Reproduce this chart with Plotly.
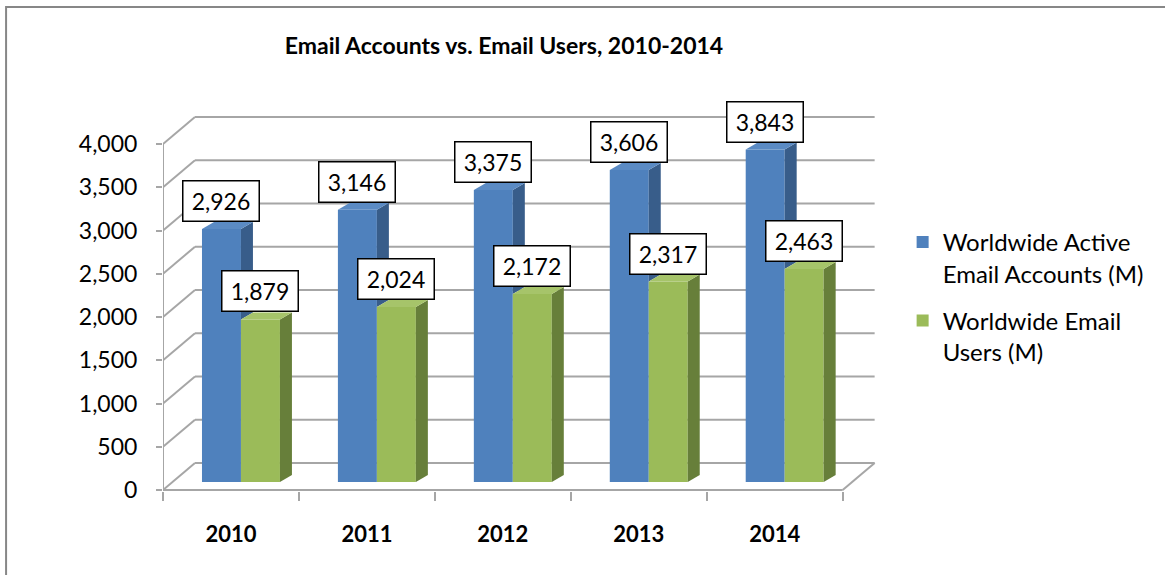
import plotly.graph_objects as go

# ---- data ----
years = ["2010", "2011", "2012", "2013", "2014"]
accounts = [2926, 3146, 3375, 3606, 3843]
users = [1879, 2024, 2172, 2317, 2463]
y_ticks = [0, 500, 1000, 1500, 2000, 2500, 3000, 3500, 4000]
series_names = ["Worldwide Active<br>Email Accounts (M)", "Worldwide Email<br>Users (M)"]

# ---- geometry / style ----
W, H = 1165, 575
PX_CAT = 136.0            # pixels per category
K = 346.0 / 4000.0        # pixels per value unit
X0_PX = 163               # pixel of x=0
Y0_PX = 490               # pixel of value 0 (front plane)
TOP_PX, BOT_PX = 105, 491
RIGHT_X = 5.26

wall_dx = 32 / PX_CAT
wall_dy = 27 / K
bar_base = 8 / K
bar_off = 39 / PX_CAT
bar_w = 39 / PX_CAT
side_dx = 12 / PX_CAT
side_dy = 7 / K

blue, blue_side, blue_top = "#4F81BD", "#385D8A", "#5B8BC4"
green, green_side, green_top = "#9BBB59", "#677F3A", "#A6C46A"
grid_col = "#A6A6A6"
FONT = "Lato"

y_lo = -(BOT_PX - Y0_PX) / K
y_hi = (Y0_PX - TOP_PX) / K

fig = go.Figure()

n = len(years)
blue_x = [i + bar_off + bar_w / 2 for i in range(n)]
green_x = [i + bar_off + bar_w * 1.5 for i in range(n)]

fig.add_trace(go.Bar(x=blue_x, y=accounts, base=bar_base, width=bar_w,
                     marker=dict(color=blue, line=dict(width=0)),
                     name=series_names[0], legendgroup="a"))
fig.add_trace(go.Bar(x=green_x, y=users, base=bar_base, width=bar_w,
                     marker=dict(color=green, line=dict(width=0)),
                     name=series_names[1], legendgroup="b"))


def poly(xs, ys, color):
    fig.add_trace(go.Scatter(x=xs + [xs[0]], y=ys + [ys[0]], mode="lines",
                             fill="toself", fillcolor=color,
                             line=dict(width=0, color=color),
                             showlegend=False, hoverinfo="skip"))


for i in range(n):
    bl = blue_x[i] - bar_w / 2
    br = blue_x[i] + bar_w / 2
    gl = green_x[i] - bar_w / 2
    gr = green_x[i] + bar_w / 2
    tb = bar_base + accounts[i]
    tg = bar_base + users[i]
    # blue side (visible part above green top)
    poly([br, br + side_dx, br + side_dx, br],
         [tg, tg + side_dy, tb + side_dy, tb], blue_side)
    # blue top
    poly([bl, bl + side_dx, br + side_dx, br],
         [tb, tb + side_dy, tb + side_dy, tb], blue_top)
    # green side
    poly([gr, gr + side_dx, gr + side_dx, gr],
         [bar_base, bar_base + side_dy, tg + side_dy, tg], green_side)
    # green top
    poly([gl, gl + side_dx, gr + side_dx, gr],
         [tg, tg + side_dy, tg + side_dy, tg], green_top)

# ---- walls / gridlines as shapes below traces ----
shapes = []
line = dict(color=grid_col, width=2)
for v in y_ticks:
    shapes.append(dict(type="line", xref="x", yref="y", x0=wall_dx, y0=v + wall_dy,
                       x1=n + wall_dx, y1=v + wall_dy, line=line, layer="below"))
    shapes.append(dict(type="line", xref="x", yref="y", x0=0, y0=v,
                       x1=wall_dx, y1=v + wall_dy, line=line, layer="below"))
# floor front edge and right edge
shapes.append(dict(type="line", xref="x", yref="y", x0=0, y0=0, x1=n, y1=0,
                   line=line, layer="below"))
shapes.append(dict(type="line", xref="x", yref="y", x0=n, y0=0, x1=n + wall_dx,
                   y1=wall_dy, line=line, layer="below"))
# vertical axis line
shapes.append(dict(type="line", xref="x", yref="y", x0=0, y0=0, x1=0,
                   y1=y_ticks[-1], line=line, layer="below"))
# outer chart border
pw = (RIGHT_X * PX_CAT)
ph = BOT_PX - TOP_PX
shapes.append(dict(type="rect", xref="paper", yref="paper",
                   x0=(6 - X0_PX) / pw, x1=(1300 - X0_PX) / pw,
                   y0=(BOT_PX - 700) / ph, y1=(BOT_PX - 7) / ph,
                   line=dict(color="#878787", width=2), fillcolor="rgba(0,0,0,0)",
                   layer="below"))

# ---- data labels ----
annotations = []
for xs, vals in ((blue_x, accounts), (green_x, users)):
    for x, v in zip(xs, vals):
        annotations.append(dict(x=x, y=bar_base + v + side_dy, xref="x", yref="y",
                                text=f"{v:,}", showarrow=False, yanchor="bottom",
                                xanchor="center", width=73, height=37, borderpad=1,
                                bgcolor="white", bordercolor="black", borderwidth=1.5,
                                font=dict(family=FONT, size=23, color="black")))

fig.update_layout(
    width=W, height=H,
    margin=dict(l=X0_PX, r=W - X0_PX - int(round(pw)), t=TOP_PX, b=H - BOT_PX),
    paper_bgcolor="white", plot_bgcolor="white",
    barmode="overlay",
    shapes=shapes, annotations=annotations,
    title=dict(text="<b>Email Accounts vs. Email Users, 2010-2014</b>",
               x=504 / W, xref="container", xanchor="center",
               y=1 - 46 / H, yref="container", yanchor="middle",
               font=dict(family=FONT, size=23, color="black")),
    xaxis=dict(range=[0, RIGHT_X], showgrid=False, zeroline=False, showline=False,
               tickvals=[i + 0.5 for i in range(n)], ticktext=years, ticks="",
               tickfont=dict(family=FONT, size=22, color="black", weight="bold"),
               ticklabelstandoff=28,
               minor=dict(tickvals=list(range(n + 1)), ticks="outside", ticklen=9,
                          tickcolor=grid_col, tickwidth=2, showgrid=False)),
    yaxis=dict(range=[y_lo, y_hi], showgrid=False, zeroline=False, showline=False,
               tickvals=y_ticks, tickformat=",", ticks="outside", ticklen=6,
               tickcolor=grid_col, tickwidth=2, ticklabelstandoff=14,
               tickfont=dict(family=FONT, size=23, color="black")),
    legend=dict(x=(903 - X0_PX) / pw, y=(BOT_PX - 220) / ph, xanchor="left",
                yanchor="top", valign="top", traceorder="grouped", tracegroupgap=13,
                font=dict(family=FONT, size=24, color="black"),
                bgcolor="rgba(0,0,0,0)"),
    showlegend=True,
)

fig.write_html("out.html")
